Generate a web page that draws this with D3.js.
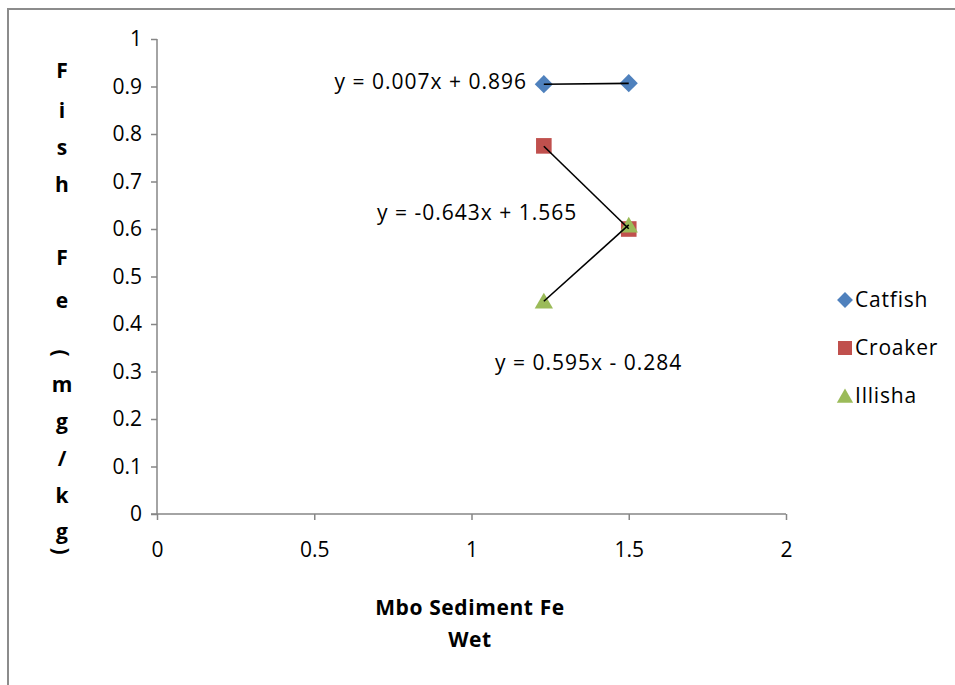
<!DOCTYPE html>
<html>
<head>
<meta charset="utf-8">
<script src="https://cdn.jsdelivr.net/npm/d3@7"></script>
<style>
  html, body { margin: 0; padding: 0; background: #fff; }
  svg { display: block; font-family: "Open Sans", "Noto Sans", sans-serif; }
</style>
</head>
<body>
<svg id="chart" width="955" height="685"></svg>
<script>
// Series: sediment Fe (x) vs fish Fe (y)
const seriesNames = ["Catfish", "Croaker", "Illisha"];
const catfishX = [1.23, 1.5];
const catfishY = [0.905, 0.907];
const croakerX = [1.23, 1.5];
const croakerY = [0.775, 0.600];
const illishaX = [1.23, 1.5];
const illishaY = [0.448, 0.608];

// Linear trendline coefficients and their printed equations
const trendSlopes = [0.007, -0.643, 0.595];
const trendIntercepts = [0.896, 1.565, -0.284];
const trendLabels = ["y = 0.007x + 0.896", "y = -0.643x + 1.565", "y = 0.595x - 0.284"];

const xTicks = [0, 0.5, 1, 1.5, 2];
const yTicks = [0, 0.1, 0.2, 0.3, 0.4, 0.5, 0.6, 0.7, 0.8, 0.9, 1];
const xTitleLines = ["Mbo Sediment Fe", "Wet"];
const yTitle = "Fish Fe (mg/kg)";

const colors = ["#4F81BD", "#C0504D", "#9BBB59"];
const axisColor = "#868686";

const svg = d3.select("#chart");

// Outer chart frame (left and top edges visible)
svg.append("path")
  .attr("d", "M8,685 V9 H955")
  .attr("fill", "none")
  .attr("stroke", "#8c8c8c")
  .attr("stroke-width", 2);

const x = d3.scaleLinear().domain([0, 2]).range([157, 786]);
const y = d3.scaleLinear().domain([0, 1]).range([514, 39]);

// Axes
const yAxis = d3.axisLeft(y).tickValues(yTicks).tickSize(6).tickPadding(9)
  .tickFormat(d => String(+d.toFixed(1)));
const xAxis = d3.axisBottom(x).tickValues(xTicks).tickSize(6).tickPadding(22)
  .tickFormat(d => String(d));

const gy = svg.append("g").attr("transform", `translate(${x(0)},0)`).call(yAxis);
const gx = svg.append("g").attr("transform", `translate(0,${y(0)})`).call(xAxis);

[gx, gy].forEach(g => {
  g.select(".domain").attr("stroke", axisColor).attr("stroke-width", 1.5);
  g.selectAll(".tick line").attr("stroke", axisColor).attr("stroke-width", 1.5);
  g.selectAll(".tick text")
    .attr("fill", "#000")
    .style("font-size", "21px")
    .style("font-family", "'Open Sans', sans-serif");
});
// Plain axis lines; the y line runs a little past the origin to the left
gy.select(".domain").attr("d", `M0,${y(1)}V${y(0)}`);
gx.select(".domain").attr("d", `M${x(0) - 6},0H${x(2)}`);

const seriesX = [catfishX, croakerX, illishaX];
const seriesY = [catfishY, croakerY, illishaY];

// Markers
const symbolTypes = [d3.symbolDiamond2, d3.symbolSquare2, d3.symbolTriangle2];
const plotSizes = [210, 310, 240];
const legendSizes = [160, 250, 190];

seriesNames.forEach((name, i) => {
  const pts = seriesX[i].map((xv, j) => [xv, seriesY[i][j]]);
  svg.append("g").selectAll("path")
    .data(pts)
    .join("path")
    .attr("d", d3.symbol().type(symbolTypes[i]).size(plotSizes[i])())
    .attr("transform", d => `translate(${x(d[0])},${y(d[1]) + (i === 2 ? 2 : 0)})`)
    .attr("fill", colors[i]);
});

// Trendlines drawn from their equations over each series' x range
seriesNames.forEach((name, i) => {
  const x0 = d3.min(seriesX[i]), x1 = d3.max(seriesX[i]);
  const f = v => trendSlopes[i] * v + trendIntercepts[i];
  svg.append("line")
    .attr("x1", x(x0)).attr("y1", y(f(x0)))
    .attr("x2", x(x1)).attr("y2", y(f(x1)))
    .attr("stroke", "#000")
    .attr("stroke-width", 1.6);
});

// Trendline equation labels
const labelPos = [
  { x: 527, y: 82, anchor: "end" },
  { x: 377, y: 213, anchor: "start" },
  { x: 495, y: 363, anchor: "start" }
];
trendLabels.forEach((t, i) => {
  svg.append("text")
    .attr("x", labelPos[i].x)
    .attr("y", labelPos[i].y)
    .attr("dy", "0.35em")
    .attr("text-anchor", labelPos[i].anchor)
    .style("font-size", "21px")
    .style("letter-spacing", "1px")
    .attr("fill", "#000")
    .text(t);
});

// Legend
const legend = svg.append("g");
seriesNames.forEach((name, i) => {
  const ly = 300 + i * 48;
  legend.append("path")
    .attr("d", d3.symbol().type(symbolTypes[i]).size(legendSizes[i])())
    .attr("transform", `translate(${845},${ly + (i === 2 ? 2 : 0)})`)
    .attr("fill", colors[i]);
  legend.append("text")
    .attr("x", 855)
    .attr("y", ly)
    .attr("dy", "0.35em")
    .style("font-size", "21px")
    .style("letter-spacing", "0.8px")
    .attr("fill", "#000")
    .text(name);
});

// X axis title (two lines, bold)
xTitleLines.forEach((line, i) => {
  svg.append("text")
    .attr("x", 470)
    .attr("y", 608 + i * 32)
    .attr("dy", "0.35em")
    .attr("text-anchor", "middle")
    .style("font-size", "21px")
    .style("font-weight", "bold")
    .style("letter-spacing", "0.6px")
    .attr("fill", "#000")
    .text(line);
});

// Y axis title stacked one character per line; parentheses turned sideways
const yTitleCenters = [70, 110, 147, 184, null, 257, 300, null, 353, 384, 421, 458, 495, 531, 551];
yTitle.split("").forEach((ch, i) => {
  const cy = yTitleCenters[i];
  if (ch === " " || cy == null) return;
  const rotated = ch === "(" || ch === ")";
  svg.append("text")
    .attr("transform", `translate(62,${cy})` + (rotated ? " rotate(90)" : ""))
    .attr("dominant-baseline", "central")
    .attr("text-anchor", "middle")
    .style("font-size", "21px")
    .style("font-weight", "bold")
    .attr("fill", "#000")
    .text(ch);
});
</script>
</body>
</html>
